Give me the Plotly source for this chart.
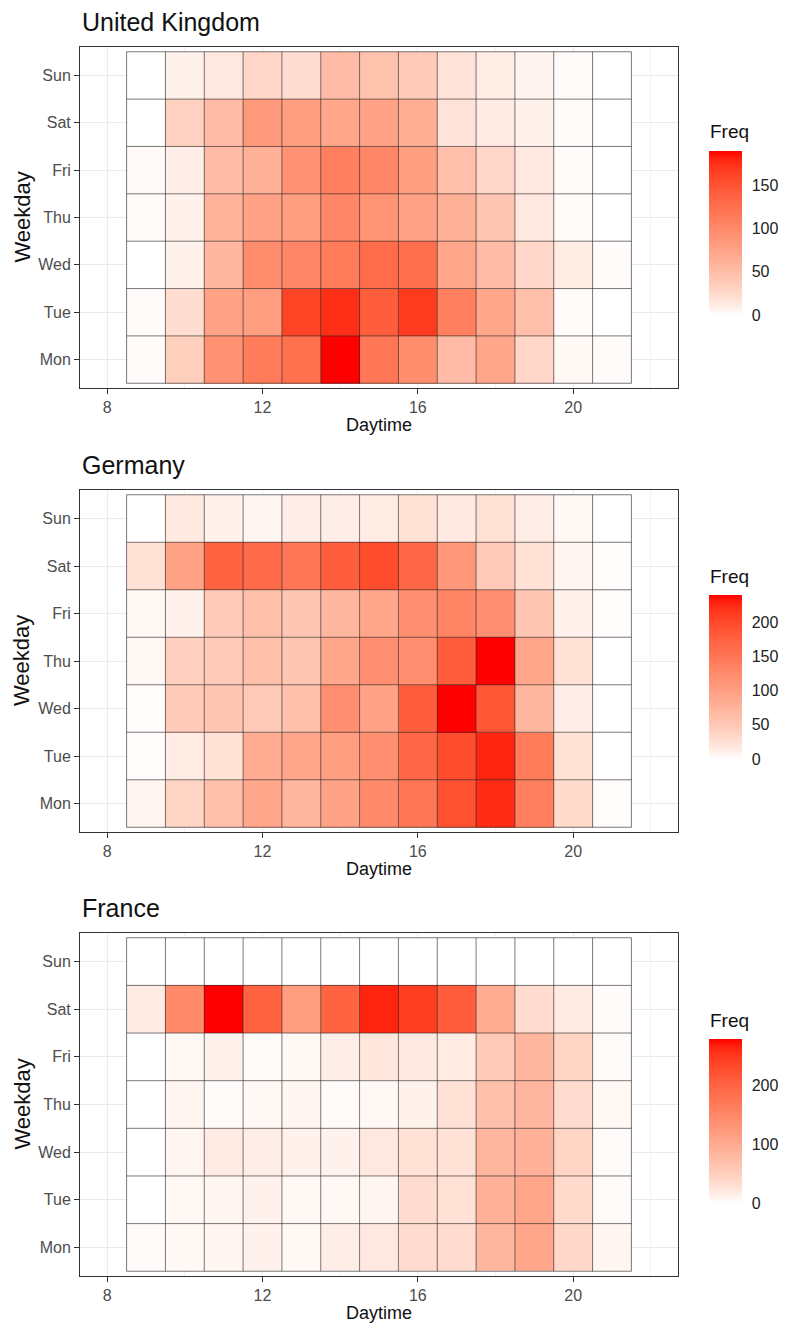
import plotly.graph_objects as go

# ---------------- data ----------------
hours = list(range(9, 22))
days = ["Mon", "Tue", "Wed", "Thu", "Fri", "Sat", "Sun"]
countries = ["United Kingdom", "Germany", "France"]

# rows: Mon .. Sun, columns: hours 9 .. 21
uk = [
    [2, 34, 92, 114, 124, 190, 118, 96, 52, 72, 28, 4, 2],      # Mon
    [2, 22, 76, 80, 162, 175, 142, 168, 110, 72, 48, 2, 0],     # Tue
    [0, 7, 56, 98, 104, 114, 128, 126, 72, 52, 28, 11, 2],      # Wed
    [2, 7, 60, 76, 80, 104, 90, 76, 62, 42, 14, 2, 0],          # Thu
    [3, 9, 52, 62, 92, 110, 104, 80, 48, 28, 14, 2, 0],         # Fri
    [0, 32, 52, 85, 80, 72, 76, 66, 18, 12, 8, 2, 0],           # Sat
    [0, 8, 14, 28, 22, 52, 46, 38, 18, 10, 6, 2, 0],            # Sun
]
germany = [
    [7, 36, 60, 91, 72, 96, 125, 149, 192, 223, 139, 31, 2],    # Mon
    [2, 14, 24, 84, 91, 101, 120, 168, 197, 228, 144, 24, 0],   # Tue
    [2, 48, 53, 48, 60, 120, 96, 180, 240, 187, 72, 12, 0],     # Wed
    [5, 41, 48, 60, 53, 91, 120, 120, 180, 240, 91, 24, 0],     # Thu
    [5, 10, 48, 60, 53, 72, 91, 120, 132, 120, 53, 10, 2],      # Fri
    [24, 96, 173, 163, 149, 180, 197, 168, 108, 48, 24, 7, 2],  # Sat
    [0, 17, 10, 7, 12, 12, 14, 24, 17, 24, 12, 5, 0],           # Sun
]
france = [
    [3, 6, 8, 11, 6, 14, 20, 34, 34, 84, 106, 39, 8],           # Mon
    [0, 6, 8, 11, 6, 6, 8, 34, 28, 90, 106, 36, 3],             # Tue
    [0, 8, 17, 14, 11, 11, 20, 28, 28, 84, 90, 42, 3],          # Wed
    [0, 8, 3, 6, 8, 3, 6, 11, 28, 70, 84, 34, 6],               # Thu
    [0, 6, 11, 3, 6, 14, 22, 20, 17, 56, 84, 42, 3],            # Fri
    [17, 146, 280, 202, 118, 202, 266, 246, 210, 98, 34, 17, 3],# Sat
    [0, 0, 0, 0, 0, 0, 0, 0, 0, 0, 0, 0, 0],                    # Sun
]
freq_dticks = [50, 50, 100]
x_ticks = [8, 12, 16, 20]

# ------------- colour scale: white -> red, interpolated in CIELAB -------------
M = [[0.4124564, 0.3575761, 0.1804375],
     [0.2126729, 0.7151522, 0.0721750],
     [0.0193339, 0.1191920, 0.9503041]]
MI = [[3.2404542, -1.5371385, -0.4985314],
      [-0.9692660, 1.8760108, 0.0415560],
      [0.0556434, -0.2040259, 1.0572252]]
WN = (0.95047, 1.0, 1.08883)


def to_lab(rgb):
    lin = []
    for c in rgb:
        c = c / 255
        lin.append(c / 12.92 if c <= 0.04045 else ((c + 0.055) / 1.055) ** 2.4)
    xyz = [sum(M[i][j] * lin[j] for j in range(3)) / WN[i] for i in range(3)]
    f = [t ** (1 / 3) if t > 0.008856 else 7.787 * t + 16 / 116 for t in xyz]
    return (116 * f[1] - 16, 500 * (f[0] - f[1]), 200 * (f[1] - f[2]))


def from_lab(lab):
    L, a, b = lab
    fy = (L + 16) / 116
    fx = fy + a / 500
    fz = fy - b / 200
    xyz = []
    for f, wn in zip((fx, fy, fz), WN):
        t = f ** 3 if f ** 3 > 0.008856 else (f - 16 / 116) / 7.787
        xyz.append(t * wn)
    out = []
    for i in range(3):
        c = sum(MI[i][j] * xyz[j] for j in range(3))
        c = 12.92 * c if c <= 0.0031308 else 1.055 * c ** (1 / 2.4) - 0.055
        out.append(int(round(min(max(c, 0), 1) * 255)))
    return "rgb(%d,%d,%d)" % tuple(out)


lo, hi = to_lab((255, 255, 255)), to_lab((255, 0, 0))
N = 20
GAMMA = 0.8  # the picture's gradient is a little more saturated in its middle
colorscale = [[k / N, from_lab(tuple(lo[i] + (hi[i] - lo[i]) * (k / N) ** GAMMA
                                     for i in range(3)))]
              for k in range(N + 1)]

# ---------------- layout geometry (pixels) ----------------
W, H = 785, 1329
px_left, px_right = 80, 678
panel_tops = [47, 490, 933]
panel_bots = [388, 832, 1276]
bar_tops = [151, 595, 1039]
bar_len = 164
FONT = "Liberation Sans, Arial, sans-serif"


def py(y):
    return 1 - y / H


fig = go.Figure()
datasets = [uk, germany, france]
ypos = list(range(1, len(days) + 1))
shapes = []
annotations = []

for k, (name, z) in enumerate(zip(countries, datasets)):
    ax = "" if k == 0 else str(k + 1)
    zmax = max(max(r) for r in z)
    fig.add_trace(go.Heatmap(
        x=hours, y=ypos, z=z, xaxis="x" + ax, yaxis="y" + ax,
        colorscale=colorscale, zmin=0, zmax=zmax,
        colorbar=dict(
            thickness=33, thicknessmode="pixels",
            len=bar_len, lenmode="pixels",
            x=709 / W, xanchor="left", xpad=0,
            y=py(bar_tops[k]), yanchor="top", ypad=0,
            outlinewidth=0, dtick=freq_dticks[k], tick0=0,
            ticks="outside", ticklen=7, tickcolor="white",
            tickfont=dict(family=FONT, size=16, color="#222222"),
        ),
        hovertemplate="%{x}h %{y}: %{z}<extra></extra>",
    ))
    xref, yref = "x" + ax, "y" + ax
    # tile outlines
    edges_x = [h - 0.5 for h in hours] + [hours[-1] + 0.5]
    edges_y = [p - 0.5 for p in ypos] + [ypos[-1] + 0.5]
    for ex in edges_x:
        shapes.append(dict(type="line", xref=xref, yref=yref, x0=ex, x1=ex,
                           y0=edges_y[0], y1=edges_y[-1],
                           line=dict(color="rgba(40,40,40,0.62)", width=1), layer="above"))
    for ey in edges_y:
        shapes.append(dict(type="line", xref=xref, yref=yref, y0=ey, y1=ey,
                           x0=edges_x[0], x1=edges_x[-1],
                           line=dict(color="rgba(40,40,40,0.62)", width=1), layer="above"))

    dom_y = [py(panel_bots[k]), py(panel_tops[k])]
    fig.layout["xaxis" + ax] = dict(
        domain=[px_left / W, px_right / W], anchor="y" + ax,
        range=[7.3, 22.7], tickvals=x_ticks, ticks="outside", ticklen=5,
        tickcolor="#333333", tickwidth=1,
        tickfont=dict(family=FONT, size=16, color="#4d4d4d"),
        showgrid=True, gridcolor="#ebebeb", gridwidth=1.2,
        minor=dict(dtick=2, tick0=0, showgrid=True, gridcolor="#f2f2f2", gridwidth=0.7),
        showline=True, mirror=True, linecolor="#333333", linewidth=1, zeroline=False,
    )
    fig.layout["yaxis" + ax] = dict(
        domain=dom_y, anchor="x" + ax,
        range=[0.4, 7.6], tickvals=ypos, ticktext=days, ticks="outside", ticklen=5,
        tickcolor="#333333", tickwidth=1,
        tickfont=dict(family=FONT, size=16, color="#4d4d4d"),
        showgrid=True, gridcolor="#ebebeb", gridwidth=1.2,
        showline=True, mirror=True, linecolor="#333333", linewidth=1, zeroline=False,
    )
    cy = (panel_tops[k] + panel_bots[k]) / 2
    annotations += [
        dict(text=name, xref="paper", yref="paper", x=px_left / W, y=py(panel_tops[k] - 25),
             xanchor="left", yanchor="middle", showarrow=False,
             font=dict(family=FONT, size=25, color="#111111")),
        dict(text="Daytime", xref="paper", yref="paper", x=(px_left + px_right) / 2 / W,
             y=py(panel_bots[k] + 37), xanchor="center", yanchor="middle", showarrow=False,
             font=dict(family=FONT, size=18, color="#111111")),
        dict(text="Weekday", xref="paper", yref="paper", x=22 / W, y=py(cy),
             xanchor="center", yanchor="middle", showarrow=False, textangle=-90,
             font=dict(family=FONT, size=22, color="#111111")),
        dict(text="Freq", xref="paper", yref="paper", x=708 / W, y=py(bar_tops[k] - 19),
             xanchor="left", yanchor="middle", showarrow=False,
             font=dict(family=FONT, size=19, color="#111111")),
    ]

fig.update_layout(
    width=W, height=H, margin=dict(l=0, r=0, t=0, b=0),
    paper_bgcolor="white", plot_bgcolor="white",
    shapes=shapes, annotations=annotations, showlegend=False,
)
fig.write_html("out.html", config={"displayModeBar": False},
               post_script="document.body.style.margin='0';document.body.style.overflow='hidden';")
